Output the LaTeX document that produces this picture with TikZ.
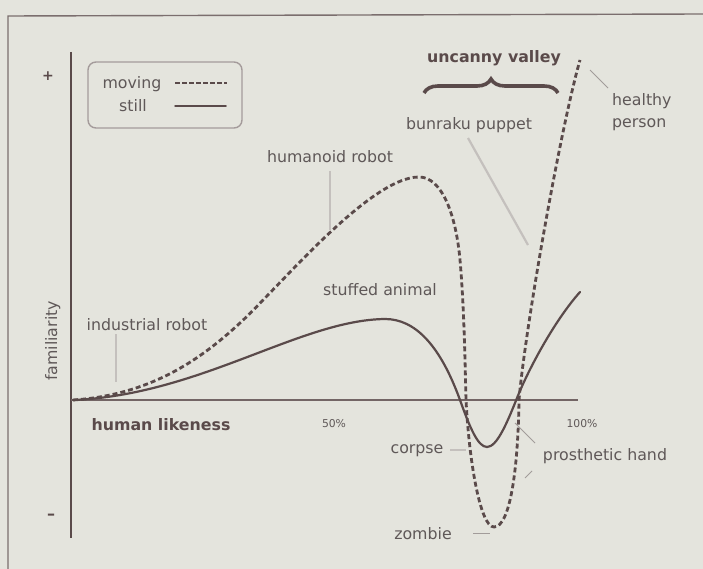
\documentclass[tikz,border=0pt]{standalone}
\usepackage{fontspec}
\setmainfont{DejaVu Sans}
\usetikzlibrary{decorations.pathreplacing}
\definecolor{bg}{HTML}{E4E4DD}
\definecolor{ink}{HTML}{5A4A4A}
\definecolor{txt}{HTML}{5F5858}
\definecolor{lead}{HTML}{A29C9A}
\definecolor{faint}{HTML}{C4C0BD}
\begin{document}
\begin{tikzpicture}[x=1pt,y=-1pt,
  lbl/.style={inner sep=0pt, text=txt, font=\fontsize{15.8}{19}\selectfont},
  smalllbl/.style={inner sep=0pt, text=txt, font=\fontsize{10.8}{13}\selectfont},
  boldlbl/.style={inner sep=0pt, text=ink, font=\fontsize{15.8}{19}\selectfont\bfseries},
  stillline/.style={draw=ink, line width=2.2pt, line cap=round},
  movingline/.style={draw=ink, line width=2.8pt, dash pattern=on 5pt off 3pt},
  leader/.style={draw=lead, line width=0.8pt},
  faintleader/.style={draw=faint, line width=1.6pt},
  framestyle/.style={draw=ink!80, line width=1.4pt},
  axisstyle/.style={draw=ink, line width=2pt},
  legendbox/.style={draw=ink!55, line width=1.4pt, rounded corners=8pt, minimum width=154pt, minimum height=66pt, inner sep=0pt}]
\fill[bg] (0,0) rectangle (703,569);
\useasboundingbox (0,0) rectangle (703,569);

% frame
\draw[framestyle] (8,569) -- (8,16) -- (703,14);

% axes
\coordinate (ytop) at (71,52);
\coordinate (ybot) at (71,538);
\coordinate (origin) at (71,400);
\coordinate (xend) at (578,400);
\draw[axisstyle] (ytop) -- (ybot);
\draw[axisstyle, draw=ink!85] (origin) -- (xend);

\node[inner sep=0pt, text=ink, font=\fontsize{14}{16}\selectfont\bfseries] (plus) at (48,76) {+};
\node[inner sep=0pt, text=ink, font=\fontsize{16}{18}\selectfont\bfseries] (minus) at (51,517) {–};
\node[lbl, rotate=90, anchor=base] (fam) at (57,341) {familiarity};

% legend
\node[legendbox] (legend) at (165,95) {};
\node[lbl, anchor=base] (mv) at (132,89) {moving};
\node[lbl, anchor=base] (st) at (133,112) {still};
\coordinate (mvA) at (175,83);
\coordinate (mvB) at (227,83);
\coordinate (stA) at (175,106);
\coordinate (stB) at (226,106);
\draw[movingline, line width=2.4pt, dash pattern=on 4.5pt off 2.5pt] (mvA) -- (mvB);
\draw[stillline, line width=1.5pt] (stA) -- (stB);

% curves
\coordinate (start) at (73,400);
\draw[stillline] (start) .. controls (200,395) and (300,320) .. (385,319)
  .. controls (415,319) and (440,345) .. (460,400)
  .. controls (470,428) and (478,447) .. (487,447)
  .. controls (497,447) and (507,423) .. (517,398)
  .. controls (529,368) and (555,320) .. (580,292);
\draw[movingline] (start) .. controls (150,395) and (200,360) .. (240,323)
  .. controls (280,286) and (370,177) .. (419,177)
  .. controls (442,177) and (456,215) .. (460,260)
  .. controls (464,305) and (465,360) .. (466,400)
  .. controls (469,460) and (480,527) .. (494,527)
  .. controls (510,527) and (518,470) .. (519,400)
  .. controls (525,330) and (560,130) .. (580,60);

% brace
\coordinate (brL) at (424,93);
\coordinate (brR) at (558,93);
\draw[ink, line width=3.6pt, decorate, decoration={brace, amplitude=14pt}] (brL) -- (brR);
\node[boldlbl, anchor=base] (uv) at (494,63) {uncanny valley};

% labels
\node[lbl, anchor=base] (hum) at (330,163) {humanoid robot};
\node[lbl, anchor=base] (bun) at (469,130) {bunraku puppet};
\node[lbl, anchor=base west] (hea) at (612,106) {healthy};
\node[lbl, anchor=base west] (per) at (612,128) {person};
\node[lbl, anchor=base] (stu) at (380,295) {stuffed animal};
\node[lbl, anchor=base] (ind) at (147,330) {industrial robot};
\node[boldlbl, anchor=base] (hl) at (161,430) {human likeness};
\node[smalllbl, anchor=base] (p50) at (334,427) {50\%};
\node[smalllbl, anchor=base] (p100) at (582,427) {100\%};
\node[lbl, anchor=base] (cor) at (417,453) {corpse};
\node[lbl, anchor=base] (pro) at (605,460) {prosthetic hand};
\node[lbl, anchor=base] (zom) at (423,539) {zombie};

% leaders
\coordinate (humA) at (330,171);
\coordinate (humB) at (330,230);
\draw[faintleader] (humA) -- (humB);
\coordinate (indA) at (116,334);
\coordinate (indB) at (116,382);
\draw[faintleader] (indA) -- (indB);
\coordinate (bunA) at (468,138);
\coordinate (bunB) at (528,245);
\draw[faintleader, line width=2.2pt] (bunA) -- (bunB);
\coordinate (heaA) at (590,70);
\coordinate (heaB) at (608,88);
\draw[leader] (heaA) -- (heaB);
\coordinate (corA) at (450,450);
\coordinate (corB) at (466,450);
\draw[faintleader] (corA) -- (corB);
\coordinate (proA) at (515,423);
\coordinate (proB) at (535,443);
\draw[leader] (proA) -- (proB);
\coordinate (proC) at (525,478);
\coordinate (proD) at (532,471);
\draw[leader] (proC) -- (proD);
\coordinate (zomA) at (473,533);
\coordinate (zomB) at (490,533);
\draw[leader] (zomA) -- (zomB);
\end{tikzpicture}
\end{document}
